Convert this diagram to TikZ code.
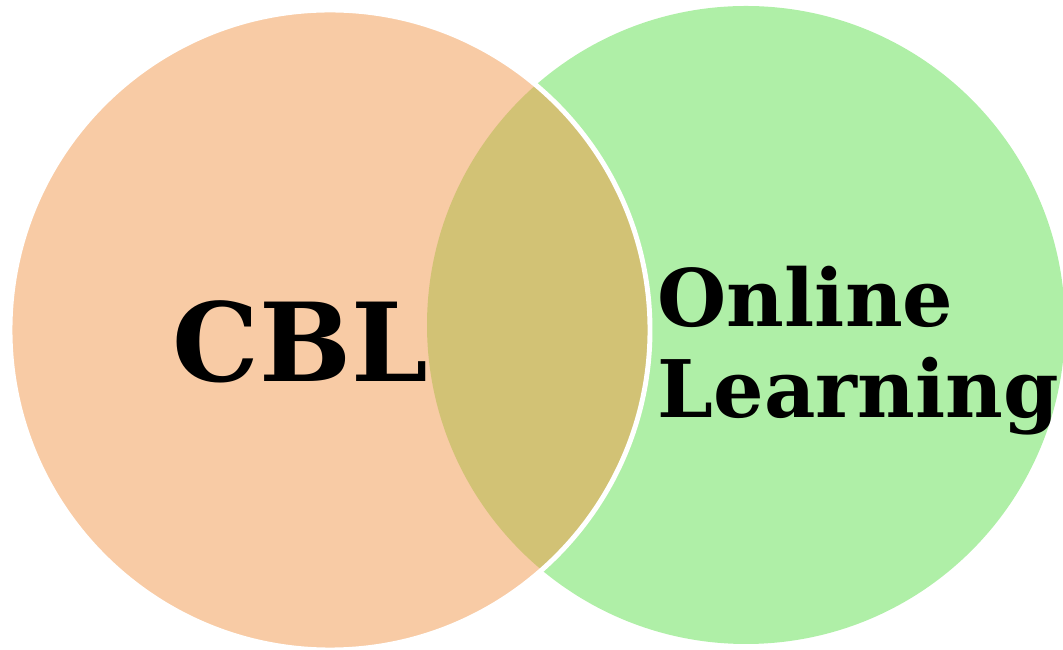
\documentclass[tikz,border=0pt]{standalone}
\usepackage{fontspec}
\setmainfont{DejaVu Serif}
\usepackage{tikz}
\definecolor{cblpeach}{RGB}{248,203,165}
\definecolor{onlinegreen}{RGB}{175,239,167}
\definecolor{overlapolive}{RGB}{210,194,117}
\tikzstyle{setlabel}=[inner sep=0pt,font=\bfseries,text=black]

\begin{document}
\begin{tikzpicture}
    % Fix the page to the size of the figure
    \useasboundingbox (0,0) rectangle (10.63,6.50);
    % The two sets
    \coordinate (cblc) at (3.30,3.20);
    \coordinate (onlinec) at (7.46,3.25);
    \fill[onlinegreen] (onlinec) circle[radius=3.19];
    \fill[cblpeach] (cblc) circle[radius=3.20];
    % Overlap of both sets
    \begin{scope}
        \clip (cblc) circle[radius=3.20];
        \fill[overlapolive] (onlinec) circle[radius=3.19];
    \end{scope}
    \draw[white,line width=1.4pt] (cblc) circle[radius=3.20];
    % Labels
    \node[setlabel,anchor=base,font=\fontsize{31}{34}\selectfont\bfseries] (cbl) at (3.00,2.68) {CBL};
    \node[setlabel,anchor=base west,align=left,font=\fontsize{22.6}{25.9}\selectfont\bfseries] (online) at (6.57,2.32) {Online\\Learning};
\end{tikzpicture}
\end{document}
